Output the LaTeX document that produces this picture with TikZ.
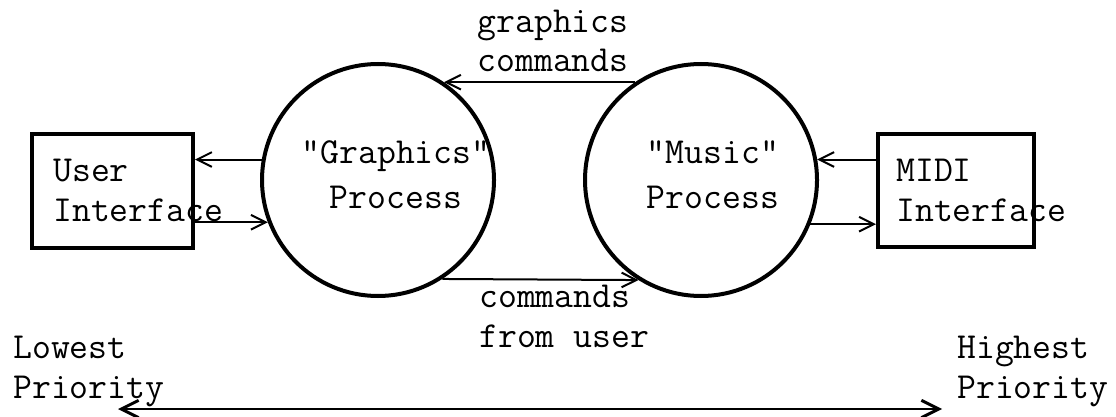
\documentclass[tikz,border=0pt]{standalone}
\usepackage{fontspec}
\usetikzlibrary{arrows.meta}

\begin{document}
\begin{tikzpicture}[x=0.75pt,y=-0.75pt,
    proc/.style={circle,draw,line width=3pt,minimum size=174pt,inner sep=0pt},
    iface/.style={rectangle,draw,line width=3pt,inner sep=0pt},
    txt/.style={font=\ttfamily\fontsize{27.5}{29.5}\selectfont,inner sep=0pt},
    flow/.style={line width=1.5pt,-{Straight Barb[length=11pt,width=11pt]}}]
  \useasboundingbox (0,0) rectangle (1116,417);
  % the two processes
  \node[proc] (G) at (378,180) {};
  \node[proc] (M) at (701,180) {};
  \node[txt,align=center,anchor=base,
        font=\ttfamily\fontsize{27.5}{33}\selectfont] (gl) at (396,208)
        {"Graphics"\\Process};
  \node[txt,align=center,anchor=base,
        font=\ttfamily\fontsize{27.5}{33}\selectfont] (ml) at (713,208)
        {"Music"\\Process};
  % interfaces on either side
  \node[iface,minimum width=120.75pt,minimum height=85.5pt] (U) at (112.5,191) {};
  \node[iface,minimum width=117pt,minimum height=84.75pt] (D) at (956,190.5) {};
  \node[txt,align=left,anchor=base west] (ul) at (53,221) {User\\Interface};
  \node[txt,align=left,anchor=base west] (dl) at (896,221) {MIDI\\Interface};
  % messages between the processes
  \draw[flow] (M.124) -- (G.56);
  \draw[flow] (G.-57.6) -- (M.-122.4);
  \node[txt,align=center,anchor=base] (gc) at (553,72) {graphics\\commands};
  \node[txt,align=left,anchor=base west] (cu) at (479,347) {commands\\from user};
  % links to the interfaces
  \draw[flow] (G.170) -- (G.170 -| U.east);
  \draw[flow] (G.201.8 -| U.east) -- (G.201.8);
  \draw[flow] (M.10 -| D.west) -- (M.10);
  \draw[flow] (M.-22.8) -- (M.-22.8 -| D.west);
  % priority scale
  \node[txt,align=left,anchor=base west] (lo) at (13,398) {Lowest\\Priority};
  \node[txt,align=left,anchor=base west] (hi) at (957,398) {Highest\\Priority};
  \coordinate (loend) at (118,409);
  \coordinate (hiend) at (942,409);
  \draw[line width=2.2pt,{Straight Barb[length=13pt,width=13pt]}-{Straight Barb[length=13pt,width=13pt]}]
    (loend) -- (hiend);
\end{tikzpicture}
\end{document}
